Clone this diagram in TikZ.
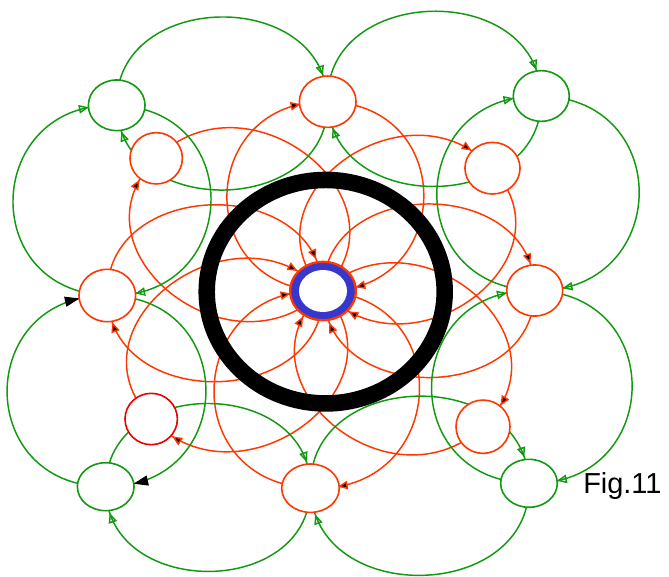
\documentclass[tikz,border=0pt]{standalone}
\usepackage{fontspec}
\newfontfamily\arialfont{Liberation Sans}
\usetikzlibrary{shapes.geometric,arrows.meta,calc,decorations.markings}
\pgfdeclarelayer{edges}
\pgfsetlayers{edges,main}
\definecolor{gr}{RGB}{17,153,17}
\definecolor{orng}{RGB}{255,55,0}
\definecolor{rd}{RGB}{235,0,0}
\definecolor{rblue}{RGB}{55,55,205}
\tikzset{
  nd/.style={ellipse, draw, fill=white, line width=1.2pt, inner sep=0pt},
  gnode/.style={nd, draw=gr},
  onode/.style={nd, draw=orng},
  ge/.style={color=gr, line width=1.1pt, postaction={decorate},
    decoration={markings, mark=at position -#1 with {\arrow{Triangle[open, length=7.5pt, width=6.3pt]}}}},
  ge/.default=20pt,
  gb/.style={color=gr, line width=1.1pt, postaction={decorate},
    decoration={markings, mark=at position -#1 with {\arrow{Triangle[black, length=11pt, width=7.5pt]}}}},
  gb/.default=21pt,
  oe/.style={color=orng, line width=1.1pt, postaction={decorate},
    decoration={markings, mark=at position -#1 with {\arrow{Triangle[fill=black, length=7.5pt, width=6.3pt]}}}},
  oe/.default=20pt,
  oplain/.style={color=orng, line width=1.1pt},
}
\newcommand\bedge[3][]{\draw[#1] let \p1=($(#3)-(#2)$) in (#2.center) .. controls +({-0.6933*\y1},{0.5467*\x1}) and +({-0.6933*\y1},{0.5467*\x1}) .. (#3.center);}
\begin{document}
\begin{tikzpicture}[x=0.75pt,y=-0.75pt]
\useasboundingbox (0,0) rectangle (669,576);
% black ring
\draw[black, line width=12.4pt] (325.7,291.7) ellipse [x radius=89.25pt, y radius=83.8pt];
% nodes
\node[gnode, minimum width=42.5pt, minimum height=38pt] (g1) at (116.7,105.3) {};
\node[gnode, minimum width=42pt, minimum height=38pt] (g2) at (541.3,96) {};
\node[gnode, minimum width=42.5pt, minimum height=36pt] (g3) at (105.7,486.7) {};
\node[gnode, minimum width=42.5pt, minimum height=36pt] (g4) at (529,483.3) {};
\node[onode, minimum width=42.5pt, minimum height=38.5pt] (otop) at (327.7,101.7) {};
\node[onode, minimum width=39.3pt, minimum height=38.5pt] (oul) at (156.2,158.3) {};
\node[onode, minimum width=41.3pt, minimum height=38.7pt] (our) at (492.5,168.2) {};
\node[onode, minimum width=42.5pt, minimum height=39.3pt] (oleft) at (107.3,295.5) {};
\node[onode, minimum width=42pt, minimum height=38.3pt] (oright) at (534.7,290.5) {};
\node[nd, draw=rd, minimum width=39.3pt, minimum height=38.5pt] (oll) at (151.2,419) {};
\node[onode, minimum width=40.5pt, minimum height=40pt] (olr) at (483,426.7) {};
\node[onode, minimum width=43.2pt, minimum height=36.3pt] (obot) at (310.5,488.2) {};
% centre ring
\node[ellipse, draw=orng, line width=1.7pt, fill=rblue, inner sep=0pt, minimum width=49.3pt, minimum height=43.8pt] (c) at (323,291) {};
\fill[white] (c.center) ellipse [x radius=18pt, y radius=15.75pt];
\node[anchor=base west, inner sep=0pt, font=\arialfont\fontsize{21.7pt}{26pt}\selectfont] (fig) at (583,493.5) {Fig.11};
\begin{pgfonlayer}{edges}
% orange edges
\foreach \X in {otop,our,oright,olr,obot,oll,oleft,oul}{
  \bedge[oe=20.5pt]{c}{\X}
}
\foreach \X in {otop,our,oright,olr,obot,oll,oleft}{
  \bedge[oe=24.5pt]{\X}{c}
}
\bedge[oplain]{oul}{c}
% green edges
\bedge[ge]{g1}{otop}
\bedge[ge]{otop}{g1}
\bedge[ge]{otop}{g2}
\bedge[ge]{g2}{otop}
\bedge[ge=21pt]{g2}{oright}
\bedge[ge=21pt]{oright}{g2}
\bedge[ge=21pt]{oright}{g4}
\bedge[ge=21pt]{g4}{oright}
\bedge[ge]{g4}{obot}
\bedge[ge]{obot}{g4}
\bedge[ge]{obot}{g3}
\bedge[ge]{g3}{obot}
\bedge[gb]{g3}{oleft}
\bedge[gb]{oleft}{g3}
\bedge[ge=21pt]{oleft}{g1}
\bedge[ge=21pt]{g1}{oleft}
\end{pgfonlayer}
\end{tikzpicture}
\end{document}
